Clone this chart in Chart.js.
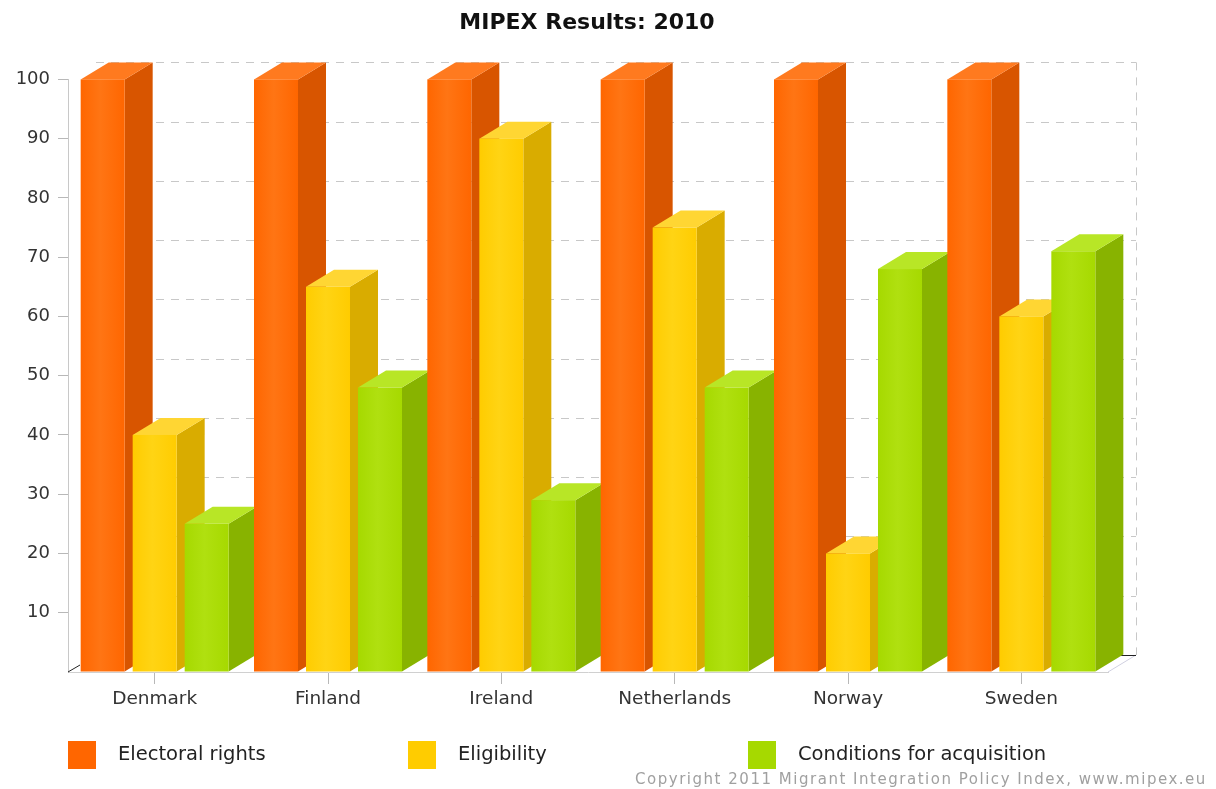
<!DOCTYPE html>
<html>
<head>
<meta charset="utf-8">
<title>MIPEX Results: 2010</title>
<script src="https://cdn.jsdelivr.net/npm/chart.js@4/dist/chart.umd.min.js"></script>
<style>
  html, body { margin: 0; padding: 0; background: #fff; }
  #wrap { width: 1216px; height: 789px; position: relative; }
</style>
</head>
<body>
<div id="wrap"><canvas id="mipexChart"></canvas></div>
<script>
// Données MIPEX 2010
const categories = ['Denmark', 'Finland', 'Ireland', 'Netherlands', 'Norway', 'Sweden'];
const seriesLabels = ['Electoral rights', 'Eligibility', 'Conditions for acquisition'];
const electoralRights = [100, 100, 100, 100, 100, 100];
const eligibility = [40, 65, 90, 75, 20, 60];
const acquisition = [25, 48, 29, 48, 68, 71];
const yTicks = [10, 20, 30, 40, 50, 60, 70, 80, 90, 100];

// Couleurs : face avant, côté, dessus
const faces = [
    { front: '#ff6600', light: '#ff7514', side: '#d85500', top: '#ff7a1f' },
    { front: '#ffcc00', light: '#ffd414', side: '#d9ac00', top: '#ffd633' },
    { front: '#a6d900', light: '#b0e010', side: '#88b300', top: '#b8e626' }
];

// Profondeur de l'effet 3D
const DX = 28;
const DY = 17;

// Mur du fond : grille en pointillés décalée
const backWall = {
    id: 'backWall',
    beforeDatasetsDraw(chart) {
        const ctx = chart.ctx;
        const area = chart.chartArea;
        const y = chart.scales.y;
        ctx.save();
        ctx.strokeStyle = '#c8c8c8';
        ctx.lineWidth = 1;
        ctx.setLineDash([8, 7]);
        yTicks.forEach(v => {
            const py = Math.round(y.getPixelForValue(v) - DY) + 0.5;
            ctx.beginPath();
            ctx.moveTo(area.left + DX, py);
            ctx.lineTo(area.right + DX, py);
            ctx.stroke();
        });
        // bord droit du mur
        const rx = Math.round(area.right + DX) + 0.5;
        ctx.beginPath();
        ctx.moveTo(rx, y.getPixelForValue(100) - DY);
        ctx.lineTo(rx, area.bottom - DY);
        ctx.stroke();
        ctx.setLineDash([]);

        // sol
        ctx.strokeStyle = '#d0d0e0';
        ctx.beginPath();
        ctx.moveTo(area.right, area.bottom);
        ctx.lineTo(area.right + DX, area.bottom - DY);
        ctx.stroke();
        ctx.strokeStyle = '#222';
        ctx.beginPath();
        ctx.moveTo(area.right + DX - 15, area.bottom - DY + 0.5);
        ctx.lineTo(area.right + DX, area.bottom - DY + 0.5);
        ctx.stroke();
        ctx.beginPath();
        ctx.moveTo(area.left, area.bottom);
        ctx.lineTo(area.left + 12, area.bottom - 7);
        ctx.stroke();
        ctx.restore();
    }
};

// Barres en 3D, dessinées catégorie par catégorie de gauche à droite
const bars3d = {
    id: 'bars3d',
    afterDatasetsDraw(chart) {
        const ctx = chart.ctx;
        const metas = chart.data.datasets.map((d, i) => chart.getDatasetMeta(i));
        ctx.save();
        for (let c = 0; c < categories.length; c++) {
            metas.forEach((meta, d) => {
                const el = meta.data[c];
                if (!el) return;
                const p = el.getProps(['x', 'y', 'base', 'width'], true);
                const left = p.x - p.width / 2;
                const right = p.x + p.width / 2;
                const col = faces[d];

                // côté
                ctx.fillStyle = col.side;
                ctx.beginPath();
                ctx.moveTo(right, p.y);
                ctx.lineTo(right + DX, p.y - DY);
                ctx.lineTo(right + DX, p.base - DY);
                ctx.lineTo(right, p.base);
                ctx.closePath();
                ctx.fill();

                // dessus
                ctx.fillStyle = col.top;
                ctx.beginPath();
                ctx.moveTo(left, p.y);
                ctx.lineTo(left + DX, p.y - DY);
                ctx.lineTo(right + DX, p.y - DY);
                ctx.lineTo(right, p.y);
                ctx.closePath();
                ctx.fill();

                // face avant
                const g = ctx.createLinearGradient(left, 0, right, 0);
                g.addColorStop(0, col.front);
                g.addColorStop(0.45, col.light);
                g.addColorStop(1, col.front);
                ctx.fillStyle = g;
                ctx.fillRect(left, p.y, p.width, p.base - p.y);
            });
        }
        ctx.restore();
    }
};

// Légende en colonnes fixes + copyright
const footer = {
    id: 'footer',
    afterDraw(chart) {
        const ctx = chart.ctx;
        ctx.save();
        ctx.textBaseline = 'middle';
        seriesLabels.forEach((label, i) => {
            const x = 68 + i * 340;
            ctx.fillStyle = faces[i].front;
            ctx.fillRect(x, 741, 28, 28);
            ctx.fillStyle = '#222';
            ctx.font = '19.5px "DejaVu Sans"';
            ctx.textAlign = 'left';
            ctx.fillText(label, x + 50, 755);
        });
        const txt = 'Copyright 2011 Migrant Integration Policy Index, www.mipex.eu';
        ctx.font = '15px "DejaVu Sans"';
        const w = ctx.measureText(txt).width;
        ctx.letterSpacing = ((572 - w) / txt.length).toFixed(2) + 'px';
        ctx.fillStyle = '#a0a0a0';
        ctx.textAlign = 'left';
        ctx.fillText(txt, 635, 780);
        ctx.restore();
    }
};

document.addEventListener('DOMContentLoaded', function () {
    const canvas = document.getElementById('mipexChart');
    canvas.width = 1216;
    canvas.height = 789;

    new Chart(canvas, {
        type: 'bar',
        data: {
            labels: categories,
            datasets: [
                { label: seriesLabels[0], data: electoralRights },
                { label: seriesLabels[1], data: eligibility },
                { label: seriesLabels[2], data: acquisition }
            ].map(ds => Object.assign(ds, {
                backgroundColor: 'rgba(0,0,0,0)',
                borderWidth: 0,
                categoryPercentage: 0.9,
                barPercentage: 0.846
            }))
        },
        options: {
            responsive: false,
            animation: false,
            layout: { padding: { top: 0, right: 42, left: 0, bottom: 0 } },
            plugins: {
                legend: { display: false },
                tooltip: { enabled: false },
                title: {
                    display: true,
                    text: 'MIPEX Results: 2010',
                    color: '#111',
                    font: { family: 'DejaVu Sans', size: 22, weight: 'bold' },
                    padding: { top: 10, bottom: 43 }
                }
            },
            scales: {
                x: {
                    afterFit: s => { s.height = 117; },
                    grid: {
                        offset: false,
                        drawOnChartArea: false,
                        tickLength: 12,
                        color: '#b8b8b8'
                    },
                    border: { color: '#d0d0d0' },
                    ticks: {
                        color: '#333',
                        padding: 4,
                        font: { family: 'DejaVu Sans', size: 18.5 }
                    }
                },
                y: {
                    min: 0,
                    max: 100,
                    afterFit: s => { s.width = 68; },
                    grid: {
                        drawOnChartArea: false,
                        tickLength: 10,
                        color: c => (c.tick && c.tick.value === 0) ? 'rgba(0,0,0,0)' : '#b8b8b8'
                    },
                    border: { color: '#c8c8c8' },
                    ticks: {
                        stepSize: 10,
                        color: '#333',
                        padding: 8,
                        font: { family: 'DejaVu Sans', size: 18 },
                        callback: v => (yTicks.includes(v) ? v : '')
                    }
                },
                // marge droite réservée à la profondeur 3D
                yRight: {
                    position: 'right',
                    afterFit: s => { s.width = 66; },
                    grid: { display: false },
                    border: { display: false },
                    ticks: { display: false }
                }
            }
        },
        plugins: [backWall, bars3d, footer]
    });
});
</script>
</body>
</html>
